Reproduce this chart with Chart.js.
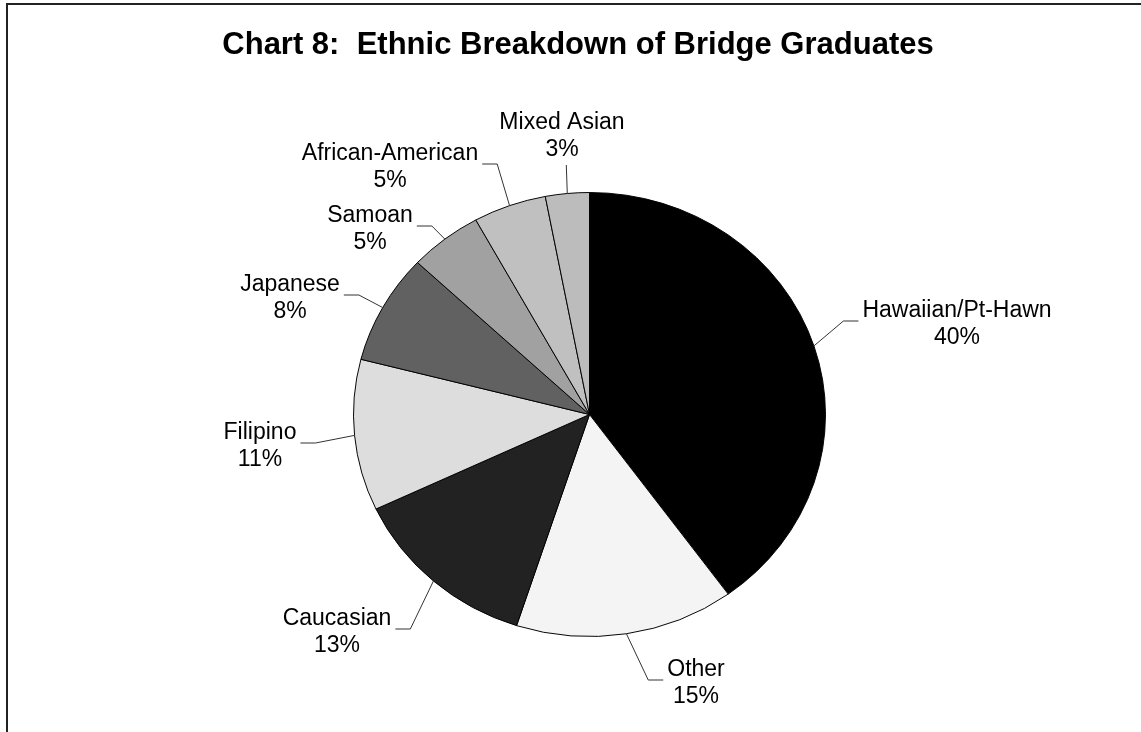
<!DOCTYPE html>
<html>
<head>
<meta charset="utf-8">
<title>Chart 8: Ethnic Breakdown of Bridge Graduates</title>
<script src="https://cdn.jsdelivr.net/npm/chart.js@4/dist/chart.umd.min.js"></script>
<style>
    html, body { margin: 0; padding: 0; background: #fff; }
    #wrap { position: relative; width: 1141px; height: 732px; }
</style>
</head>
<body>
<div id="wrap"><canvas id="ethnicChart"></canvas></div>
<script>
// **Chart data**
const categories = ["Hawaiian/Pt-Hawn", "Other", "Caucasian", "Filipino", "Japanese", "Samoan", "African-American", "Mixed Asian"];
const shares = [40, 15, 13, 11, 8, 5, 5, 3];

// **Slice fills (grayscale)**
const sliceColors = ["#000000", "#f4f4f4", "#222222", "#dddddd", "#616161", "#a1a1a1", "#c0c0c0", "#bcbcbc"];

// label text centre x, first-line baseline, side the leader line meets
const labelSpots = [
    [957, 317, "left"],
    [696, 676, "left"],
    [337, 625, "right"],
    [260, 439, "right"],
    [290, 291, "right"],
    [370, 222, "right"],
    [390, 160, "right"],
    [562, 129, "bottom"]
];

const TITLE = "Chart 8:  Ethnic Breakdown of Bridge Graduates";
const SQUASH = 222 / 236; // pie is drawn slightly flattened
const LABEL_FONT = "23px 'Liberation Sans', Arial, sans-serif";

const pieDecor = {
    id: "pieDecor",
    beforeDraw(chart) {
        let ctx = chart.ctx;
        ctx.save();
        ctx.strokeStyle = "#222";
        ctx.lineWidth = 2;
        ctx.beginPath();
        ctx.moveTo(7, chart.height + 5);
        ctx.lineTo(7, 4);
        ctx.lineTo(chart.width + 5, 4);
        ctx.stroke();
        ctx.restore();
    },
    beforeDatasetsDraw(chart) {
        let ctx = chart.ctx;
        let arc = chart.getDatasetMeta(0).data[0];
        ctx.save();
        ctx.translate(arc.x, arc.y);
        ctx.scale(1, SQUASH);
        ctx.translate(-arc.x, -arc.y);
    },
    afterDatasetsDraw(chart) {
        chart.ctx.restore();
    },
    afterDraw(chart) {
        let ctx = chart.ctx;
        let arcs = chart.getDatasetMeta(0).data;

        // title
        ctx.save();
        ctx.fillStyle = "#000";
        ctx.font = "bold 31px 'Liberation Sans', Arial, sans-serif";
        ctx.textAlign = "center";
        ctx.textBaseline = "alphabetic";
        ctx.fillText(TITLE, 578, 54);

        // slice labels and leader lines
        ctx.font = LABEL_FONT;
        ctx.strokeStyle = "#333";
        ctx.lineWidth = 1;
        arcs.forEach((arc, i) => {
            let [cx, base, side] = labelSpots[i];
            let line1 = categories[i];
            let line2 = shares[i] + "%";
            ctx.fillText(line1, cx, base);
            ctx.fillText(line2, cx, base + 27);

            let mid = (arc.startAngle + arc.endAngle) / 2;
            let r = arc.outerRadius;
            let px = arc.x + r * Math.cos(mid);
            let py = arc.y + r * Math.sin(mid) * SQUASH;
            let half = Math.max(ctx.measureText(line1).width, ctx.measureText(line2).width) / 2;

            ctx.beginPath();
            ctx.moveTo(px, py);
            if (side === "bottom") {
                ctx.lineTo(px - 1, base + 36);
            } else {
                let ex = side === "left" ? cx - half - 4 : cx + half + 4;
                let kx = side === "left" ? ex - 15 : ex + 15;
                let ey = base + 4;
                ctx.lineTo(kx, ey);
                ctx.lineTo(ex, ey);
            }
            ctx.stroke();
        });
        ctx.restore();
    }
};

let ctx = document.getElementById("ethnicChart").getContext("2d");
new Chart(ctx, {
    type: "pie",
    data: {
        labels: categories,
        datasets: [{
            data: shares,
            backgroundColor: sliceColors,
            borderColor: "#000",
            borderWidth: 1
        }]
    },
    options: {
        responsive: true,
        maintainAspectRatio: false,
        animation: false,
        rotation: 0,
        layout: { padding: { left: 353, right: 315, top: 178, bottom: 81 } },
        plugins: {
            legend: { display: false },
            title: { display: false },
            tooltip: { enabled: false }
        }
    },
    plugins: [pieDecor]
});
</script>
</body>
</html>
